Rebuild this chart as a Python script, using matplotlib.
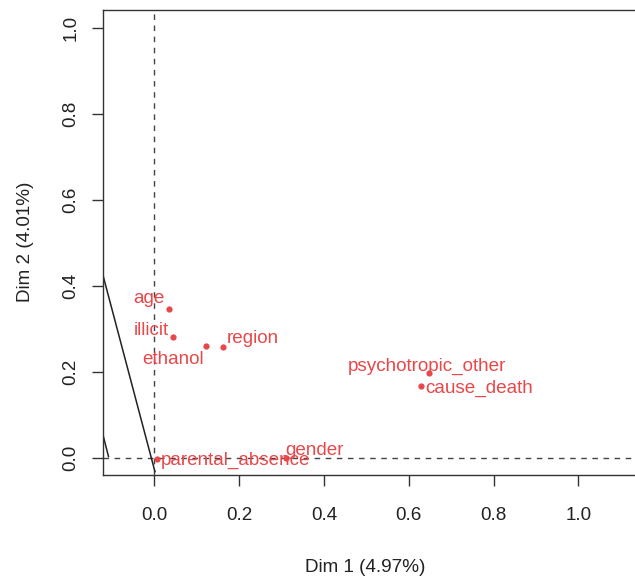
import numpy as np
import matplotlib
matplotlib.use("Agg")
from matplotlib import pyplot as plt

plt.rcParams['font.family'] = ['Liberation Sans', 'DejaVu Sans']

# variable coordinates on the first two dimensions
variables = ['age', 'illicit', 'ethanol', 'region', 'parental_absence',
             'gender', 'psychotropic_other', 'cause_death']
dim1 = [0.035, 0.045, 0.122, 0.162, 0.006, 0.310, 0.647, 0.628]
dim2 = [0.346, 0.281, 0.262, 0.259, -0.002, 0.000, 0.197, 0.168]

dim1_pct = 4.97
dim2_pct = 4.01

# stray segments drawn on the plot
seg1_x = [-0.121, 0.0015]
seg1_y = [0.425, -0.031]
seg2_x = [-0.121, -0.108]
seg2_y = [0.054, 0.004]

# label offsets in pixels (dx, dy)
label_offsets = [(-20, 11), (-22, 7), (-33, -14), (30, 8), (79, -1),
                 (29, 8), (-2, 7), (58, -2)]

red = '#E8484A'
fs = 13.6

fig = plt.figure(figsize=(6.35, 5.79), dpi=100)
ax = fig.add_axes([103 / 635, 104 / 579, 539 / 635, 465 / 579])

ax.axhline(0, color='#444444', lw=1, ls=(0, (4, 4)), zorder=1)
ax.axvline(0, color='#444444', lw=1, ls=(0, (4, 4)), zorder=1)

ax.plot(seg1_x, seg1_y, color='#222222', lw=1.1, zorder=2)
ax.plot(seg2_x, seg2_y, color='#222222', lw=1.1, zorder=2)

ax.plot(dim1, dim2, 'o', color=red, ms=4.5, mec='none', zorder=3)
for name, x, y, (dx, dy) in zip(variables, dim1, dim2, label_offsets):
    ax.annotate(name, (x, y), xytext=(dx, dy), textcoords='offset pixels',
                ha='center', va='center', color=red, fontsize=fs, zorder=4)

ax.set_xlim(-0.121, 1.150)
ax.set_ylim(-0.0388, 1.0414)
ax.set_xticks(np.arange(0, 1.01, 0.2))
ax.set_yticks(np.arange(0, 1.01, 0.2))
ax.set_xticklabels([f'{v:.1f}' for v in np.arange(0, 1.01, 0.2)])
ax.set_yticklabels([f'{v:.1f}' for v in np.arange(0, 1.01, 0.2)],
                   rotation=90, va='center')
ax.tick_params(direction='out', length=8, width=1, color='#333333',
               labelsize=fs, labelcolor='#222222')
ax.tick_params(axis='x', pad=15)
ax.tick_params(axis='y', pad=9)
for sp in ax.spines.values():
    sp.set_color('#333333')
    sp.set_linewidth(1)

fig.text(365 / 635, 1 - 567 / 579, f'Dim 1 ({dim1_pct:.2f}%)', ha='center',
         va='center', fontsize=fs, color='#222222')
fig.text(25 / 635, 1 - 242 / 579, f'Dim 2 ({dim2_pct:.2f}%)', ha='center',
         va='center', rotation=90, fontsize=fs, color='#222222')

fig.savefig('out.png', dpi=100)
